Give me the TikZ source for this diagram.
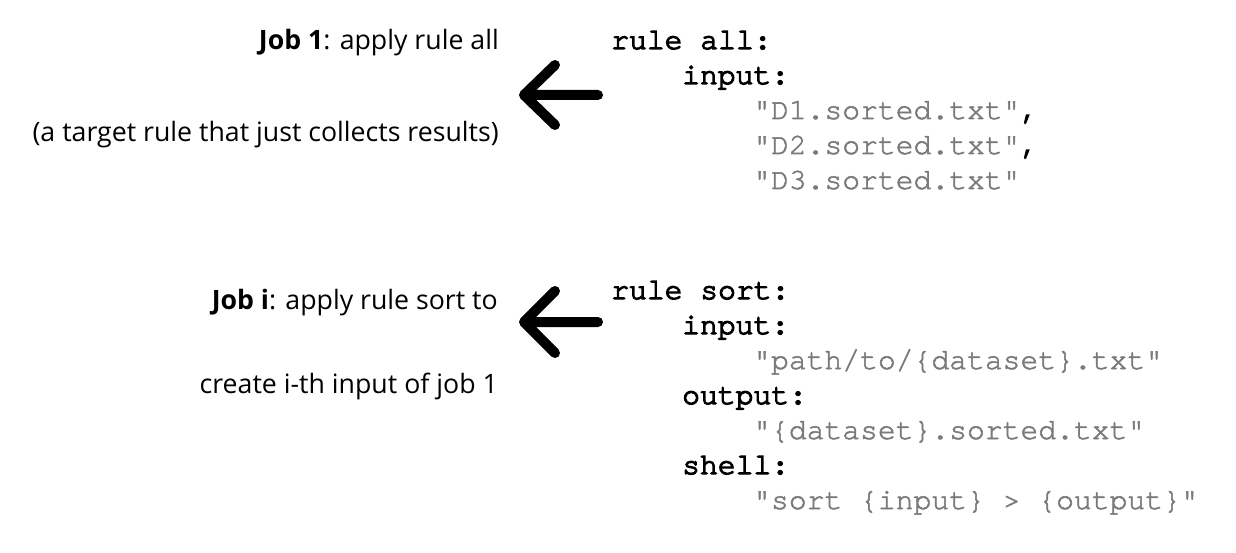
\documentclass[tikz,border=0pt]{standalone}
\usepackage{fontspec}
\setmainfont{Open Sans}
\newfontfamily\codekw{texgyrecursor-regular.otf}[FakeBold=4]
\newfontfamily\codestr{texgyrecursor-regular.otf}[FakeBold=1.8]
\definecolor{codegray}{RGB}{122,122,122}
\begin{document}
\begin{tikzpicture}[x=1pt,y=-1pt,
  lbl/.style={anchor=base east,inner sep=0pt,font=\fontsize{26.7}{30}\selectfont},
  kw/.style={anchor=base west,inner sep=0pt,font=\codekw\fontsize{29.7}{34}\selectfont},
  str/.style={anchor=base west,inner sep=0pt,font=\codestr\fontsize{29.7}{34}\selectfont,text=codegray},
  bigarrow/.style={line width=10pt,line cap=round,line join=round}]
\useasboundingbox (0,0) rectangle (1236,553);
% left labels
\node[lbl] (j1) at (499,50) {\textbf{Job 1}: apply rule all};
\node[lbl] (j1b) at (499,142) {(a target rule that just collects results)};
\node[lbl] (ji) at (498,309) {\textbf{Job i}: apply rule sort to};
\node[lbl] (jib) at (498,393) {create i-th input of job 1};
% arrows
\coordinate (a1s) at (598,95);
\coordinate (a1t) at (524,95);
\draw[bigarrow] (a1s) -- (a1t) (555,65) -- (a1t) -- (555,125);
\coordinate (a2s) at (598,322);
\coordinate (a2t) at (524,322);
\draw[bigarrow] (a2s) -- (a2t) (555,291) -- (a2t) -- (555,353);
% rule all
\node[kw] (ra) at (611,49) {rule all:};
\node[kw] (rai) at (682,84) {input:};
\node[str] (d1) at (753,119) {"D1.sorted.txt"{\codekw\color{black},}};
\node[str] (d2) at (753,154) {"D2.sorted.txt"{\codekw\color{black},}};
\node[str] (d3) at (753,189) {"D3.sorted.txt"};
% rule sort
\node[kw] (rs) at (611,299) {rule sort:};
\node[kw] (rsi) at (682,334) {input:};
\node[str] (p) at (753,369) {"path/to/\{dataset\}.txt"};
\node[kw] (rso) at (682,404) {output:};
\node[str] (o) at (753,439) {"\{dataset\}.sorted.txt"};
\node[kw] (rsh) at (682,474) {shell:};
\node[str] (s) at (753,509) {"sort \{input\} > \{output\}"};
\end{tikzpicture}
\end{document}
